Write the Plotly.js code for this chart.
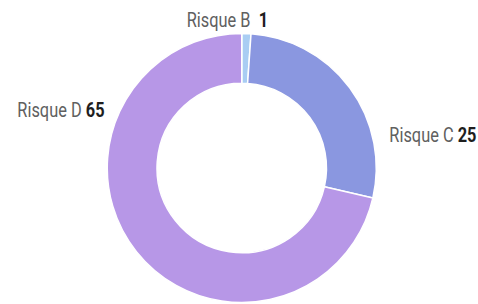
<!DOCTYPE html>
<html><head><meta charset="utf-8">
<script src="https://cdn.plot.ly/plotly-3.0.1.min.js"></script>
<style>html,body{margin:0;padding:0;background:#fff}</style>
</head><body>
<div id="chart" style="width:478px;height:304px"></div>
<script>
const labels = ["Risque B", "Risque C", "Risque D"];
const values = [1, 25, 65];
const colors = ["#a9cdf3", "#8a97e0", "#b797e7"];
// label anchor positions (paper coords)
const labelPos = [[227/478, 1-21/304], [433/478, 1-135/304], [61/478, 1-110/304]];
const gaps = [" &nbsp;", " ", " "];

const FONT = "Roboto, sans-serif";
const trace = {
  type: "pie",
  labels: labels,
  values: values,
  hole: 0.63,
  sort: false,
  direction: "clockwise",
  rotation: 0,
  textinfo: "none",
  hoverinfo: "label+value",
  marker: {colors: colors, line: {color: "#ffffff", width: 1.5}},
  domain: {x: [(241.75-134.5)/478, (241.75+134.5)/478], y: [(136-134.5)/304, (136+134.5)/304]},
  showlegend: false
};
const annotations = labels.map((l, i) => ({
  xref: "paper", yref: "paper",
  x: labelPos[i][0], y: labelPos[i][1],
  xanchor: "center", yanchor: "middle",
  showarrow: false,
  text: "<span style='color:#606060'>" + l + "</span>" + gaps[i] + "<b>" + values[i] + "</b>",
  font: {family: FONT, size: 19.5, color: "#1e1e1e"}
}));
Plotly.newPlot("chart", [trace], {
  width: 478, height: 304,
  margin: {l: 0, r: 0, t: 0, b: 0},
  paper_bgcolor: "#ffffff",
  annotations: annotations
}, {displayModeBar: false, staticPlot: true}).then(() => {
  document.querySelectorAll('#chart .annotation-text').forEach(t => {
    t.style.transformBox = 'fill-box';
    t.style.transformOrigin = 'center';
    t.style.transform = 'scaleX(0.84)';
  });
});
</script>
</body></html>
